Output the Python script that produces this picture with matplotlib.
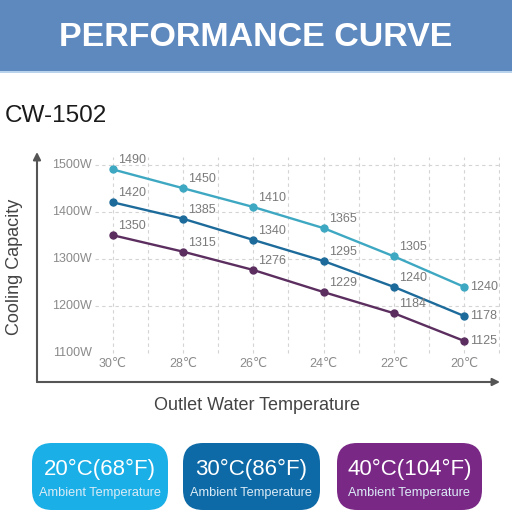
import matplotlib
matplotlib.use("Agg")
import matplotlib.pyplot as plt
from matplotlib.patches import FancyBboxPatch, Rectangle

# ---- data ----
temps = ["30℃", "28℃", "26℃", "24℃", "22℃", "20℃"]
cap_20C = [1490, 1450, 1410, 1365, 1305, 1240]
cap_30C = [1420, 1385, 1340, 1295, 1240, 1178]
cap_40C = [1350, 1315, 1276, 1229, 1184, 1125]
yticks = [1100, 1200, 1300, 1400, 1500]
ytick_labels = ["1100W", "1200W", "1300W", "1400W", "1500W"]
badge_titles = ["20°C(68°F)", "30°C(86°F)", "40°C(104°F)"]
badge_sub = "Ambient Temperature"

series = [cap_20C, cap_30C, cap_40C]
line_colors = ["#3ea8c2", "#1d6b9b", "#5b2e5f"]
badge_colors = ["#1aafe6", "#0e6aa6", "#7a2886"]

FONT = ["Liberation Sans", "DejaVu Sans"]
plt.rcParams["font.family"] = FONT

W = H = 512
fig = plt.figure(figsize=(5.12, 5.12), dpi=100)
fig.patch.set_facecolor("white")

# overlay axes in pixel coordinates
bg = fig.add_axes([0, 0, 1, 1])
bg.set_xlim(0, W)
bg.set_ylim(H, 0)
bg.axis("off")

# header band
bg.add_patch(Rectangle((0, 0), W, 71, facecolor="#5e89bf", edgecolor="none"))
bg.add_patch(Rectangle((0, 71), W, 2, facecolor="#b9d3ec", edgecolor="none"))
bg.text(256, 37, "PERFORMANCE CURVE", color="white", fontsize=24.5,
        fontweight="bold", ha="center", va="center")
bg.text(5, 122, "CW-1502", color="#1a1a1a", fontsize=17.5, ha="left",
        va="baseline")

# axis titles
bg.text(15, 267, "Cooling Capacity", rotation=90, color="#444444",
        fontsize=13, ha="center", va="center")
bg.text(257, 406, "Outlet Water Temperature", color="#444444",
        fontsize=13, ha="center", va="center")

# badges
badge_x = [(32, 168), (183, 320), (337, 482)]
for (x0, x1), col, title in zip(badge_x, badge_colors, badge_titles):
    r = 20
    bg.add_patch(FancyBboxPatch((x0 + r, 443 + r), (x1 - x0) - 2 * r, 67 - 2 * r,
                                boxstyle=f"round,pad={r}", facecolor=col,
                                edgecolor="none"))
    cx = (x0 + x1) / 2
    bg.text(cx, 469, title, color="white", fontsize=16, ha="center", va="center")
    bg.text(cx, 493, badge_sub, color="#dcecf7", fontsize=9.2, ha="center",
            va="center")

# ---- chart axes ----
px_x0, px_x1, px_ytop, px_ybot = 37, 500, 152, 382
x_zero_px, x_step_px = 112.7, 70.3
y1100_px, y_scale = 352.7, 0.47


def dx(px):
    return (px - x_zero_px) / x_step_px


def dy(py):
    return 1100 + (y1100_px - py) / y_scale


ax = fig.add_axes([px_x0 / W, (H - px_ybot) / H, (px_x1 - px_x0) / W,
                   (px_ybot - px_ytop) / H])
ax.set_xlim(dx(px_x0), dx(px_x1))
ax.set_ylim(dy(px_ybot), dy(px_ytop))
ax.patch.set_alpha(0)
for s in ax.spines.values():
    s.set_visible(False)
ax.set_xticks([])
ax.set_yticks([])

xs = list(range(len(temps)))

# grid
grid_kw = dict(color="#d4d4d4", lw=0.8, ls=(0, (3, 3)), zorder=1)
for yv in yticks[1:]:
    ax.plot([dx(95), dx(500)], [yv, yv], **grid_kw)
k = 0
while k <= 2 * (len(temps) - 1) + 1:
    xv = k / 2
    ax.plot([xv, xv], [yticks[0], dy(157)], **grid_kw)
    k += 1

# axes arrows
arrow_kw = dict(arrowstyle="-|>", color="#555555", lw=1.5, mutation_scale=11,
                shrinkA=0, shrinkB=0)
ax.annotate("", xy=(0, 1), xytext=(0, 0), xycoords="axes fraction",
            textcoords="axes fraction", arrowprops=arrow_kw)
ax.annotate("", xy=(1, 0), xytext=(0, 0), xycoords="axes fraction",
            textcoords="axes fraction", arrowprops=arrow_kw)

# tick labels
for yv, lab in zip(yticks, ytick_labels):
    ax.text(dx(92), yv, lab, ha="right", va="center", color="#8a8a8a",
            fontsize=9)
for xv, lab in zip(xs, temps):
    ax.text(xv, dy(364), lab, ha="center", va="center", color="#8a8a8a",
            fontsize=9, family=FONT)

# series
for vals, col in zip(series, line_colors):
    ax.plot(xs, vals, color=col, lw=1.7, marker="o", ms=5, zorder=3)
    for i, v in enumerate(vals):
        if i == len(vals) - 1:
            off, va = (6, 0), "center"
        else:
            off, va = (5, 3), "bottom"
        ax.annotate(str(v), (xs[i], v), xytext=off, textcoords="offset pixels",
                    ha="left", va=va, color="#7a7a7a", fontsize=9, zorder=4)

fig.savefig("out.png", dpi=100)
